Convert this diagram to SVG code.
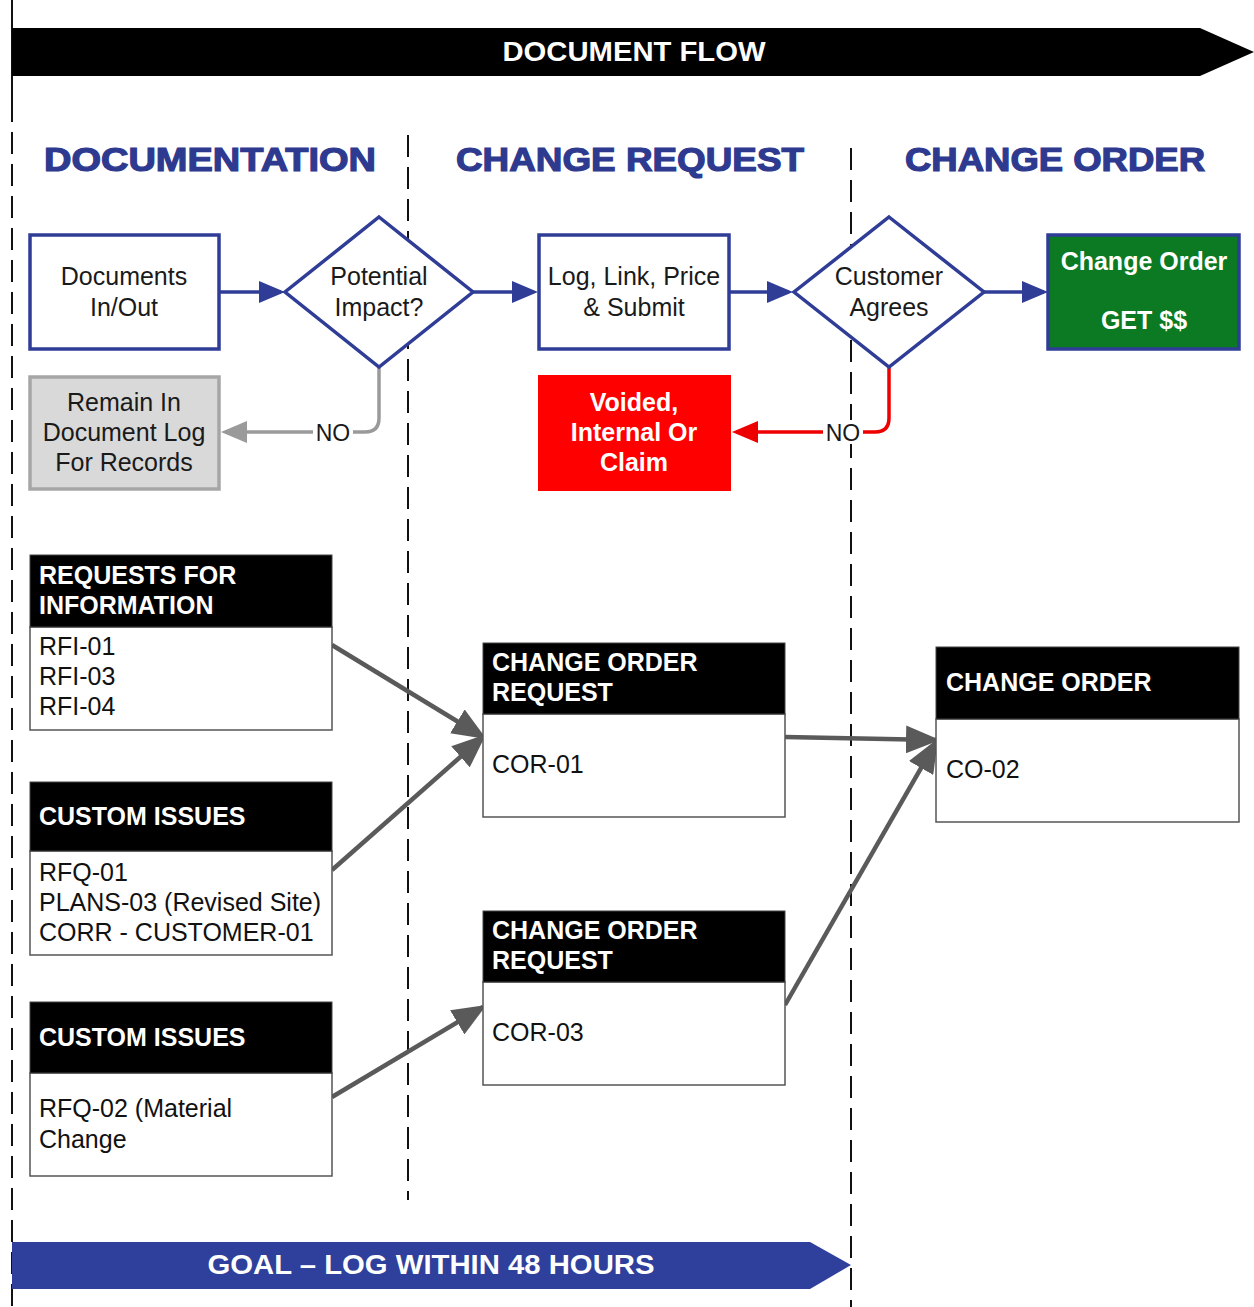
<svg xmlns="http://www.w3.org/2000/svg" width="1254" height="1307" viewBox="0 0 1254 1307">
<style>
.t{font-family:"Liberation Sans",Arial,sans-serif;}
.sec{font-family:"Liberation Sans",Arial,sans-serif;font-weight:bold;font-size:33px;fill:#2e3a8f;stroke:#2e3a8f;stroke-width:1.2px;text-anchor:middle;}
.box{fill:#fff;stroke:#2f3d96;stroke-width:3.5;}
.lbl{font-family:"Liberation Sans",Arial,sans-serif;font-size:25px;fill:#1a1a1a;text-anchor:middle;}
.no{font-family:"Liberation Sans",Arial,sans-serif;font-size:23px;fill:#1a1a1a;text-anchor:middle;}
.wb{font-family:"Liberation Sans",Arial,sans-serif;font-size:25px;font-weight:bold;fill:#fff;text-anchor:middle;}
.hd{fill:#000;stroke:#444;stroke-width:1;}
.bd{fill:#fff;stroke:#555;stroke-width:1.5;}
.ht{font-family:"Liberation Sans",Arial,sans-serif;font-size:25px;font-weight:bold;fill:#fff;}
.bt{font-family:"Liberation Sans",Arial,sans-serif;font-size:25px;fill:#111;}
.dash{stroke:#111;stroke-width:2;stroke-dasharray:22,10;fill:none;}
.nav{stroke:#2f3d96;stroke-width:3.5;fill:none;marker-end:url(#aN);}
.gc{stroke:#5a5a5a;stroke-width:4.5;fill:none;marker-end:url(#aG);}
</style>
<defs>
<marker id="aN" markerUnits="userSpaceOnUse" markerWidth="26" markerHeight="22" refX="22" refY="11" orient="auto"><path d="M0,0 L26,11 L0,22 z" fill="#2f3d96"/></marker>
<marker id="aGr" markerUnits="userSpaceOnUse" markerWidth="26" markerHeight="22" refX="22" refY="11" orient="auto"><path d="M0,0 L26,11 L0,22 z" fill="#9a9a9a"/></marker>
<marker id="aR" markerUnits="userSpaceOnUse" markerWidth="26" markerHeight="22" refX="22" refY="11" orient="auto"><path d="M0,0 L26,11 L0,22 z" fill="#ee0000"/></marker>
<marker id="aG" markerUnits="userSpaceOnUse" markerWidth="34" markerHeight="28" refX="30" refY="14" orient="auto"><path d="M0,0 L34,14 L0,28 z" fill="#5a5a5a"/></marker>
</defs>
<rect width="1254" height="1307" fill="#fff"/>

<g id="lanes">
<line x1="12" y1="0" x2="12" y2="100" stroke="#111" stroke-width="2"/>
<line class="dash" x1="12" y1="100" x2="12" y2="1307"/>
<line class="dash" x1="408" y1="135" x2="408" y2="1200"/>
<line class="dash" x1="851" y1="148" x2="851" y2="1307"/>
</g>

<g id="header">
<polygon points="12,28 1200,28 1254,52 1200,76 12,76" fill="#000"/>
<text class="t" x="634" y="61" font-size="28" font-weight="bold" fill="#fff" text-anchor="middle" textLength="263" lengthAdjust="spacingAndGlyphs">DOCUMENT FLOW</text>
</g>

<g id="sections">
<text class="sec" x="210" y="171" textLength="332" lengthAdjust="spacingAndGlyphs">DOCUMENTATION</text>
<text class="sec" x="630" y="171" textLength="348" lengthAdjust="spacingAndGlyphs">CHANGE REQUEST</text>
<text class="sec" x="1055" y="171" textLength="300" lengthAdjust="spacingAndGlyphs">CHANGE ORDER</text>
</g>

<g id="connectors">
<path class="nav" d="M220,292 H281"/>
<path class="nav" d="M473,292 H534"/>
<path class="nav" d="M730,292 H789"/>
<path class="nav" d="M984,292 H1044"/>
<path d="M379,367 V418 Q379,432 365,432 H225" stroke="#9a9a9a" stroke-width="3.5" fill="none" marker-end="url(#aGr)"/>
<path d="M889,367 V418 Q889,432 875,432 H736" stroke="#ee0000" stroke-width="3.5" fill="none" marker-end="url(#aR)"/>
<rect x="313" y="420" width="40" height="24" fill="#fff"/>
<text class="no" x="333" y="441">NO</text>
<rect x="823" y="420" width="40" height="24" fill="#fff"/>
<text class="no" x="843" y="441">NO</text>
<path class="gc" d="M332,645 L483,737"/>
<path class="gc" d="M332,870 L483,737"/>
<path class="gc" d="M332,1097 L483,1007"/>
<path class="gc" d="M785,737 L936,740"/>
<path class="gc" d="M785,1005 L936,742"/>
</g>

<g id="docs-inout">
<rect class="box" x="30" y="235" width="189" height="114"/>
<text class="lbl" x="124" y="285">Documents</text>
<text class="lbl" x="124" y="316">In/Out</text>
</g>

<g id="potential-impact">
<polygon class="box" points="379,217 473,292 379,367 285,292"/>
<text class="lbl" x="379" y="285">Potential</text>
<text class="lbl" x="379" y="316">Impact?</text>
</g>

<g id="log-link">
<rect class="box" x="539" y="235" width="190" height="114"/>
<text class="lbl" x="634" y="285">Log, Link, Price</text>
<text class="lbl" x="634" y="316">&amp; Submit</text>
</g>

<g id="customer-agrees">
<polygon class="box" points="889,217 984,292 889,367 794,292"/>
<text class="lbl" x="889" y="285">Customer</text>
<text class="lbl" x="889" y="316">Agrees</text>
</g>

<g id="change-order-get">
<rect x="1048" y="235" width="191" height="114" fill="#0b7a23" stroke="#2f3d96" stroke-width="3.5"/>
<text class="wb" x="1144" y="270">Change Order</text>
<text class="wb" x="1144" y="329">GET $$</text>
</g>

<g id="remain-log">
<rect x="30" y="377" width="189" height="112" fill="#d9d9d9" stroke="#a6a6a6" stroke-width="3.5"/>
<text class="lbl" x="124" y="411">Remain In</text>
<text class="lbl" x="124" y="441">Document Log</text>
<text class="lbl" x="124" y="471">For Records</text>
</g>

<g id="voided">
<rect x="538" y="375" width="193" height="116" fill="#ff0000"/>
<text class="wb" x="634" y="411">Voided,</text>
<text class="wb" x="634" y="441">Internal Or</text>
<text class="wb" x="634" y="471">Claim</text>
</g>

<g id="rfi">
<rect class="bd" x="30" y="627" width="302" height="103"/>
<rect class="hd" x="30" y="555" width="302" height="72"/>
<text class="ht" x="39" y="584">REQUESTS FOR</text>
<text class="ht" x="39" y="614">INFORMATION</text>
<text class="bt" x="39" y="655">RFI-01</text>
<text class="bt" x="39" y="685">RFI-03</text>
<text class="bt" x="39" y="715">RFI-04</text>
</g>

<g id="custom-issues-1">
<rect class="bd" x="30" y="851" width="302" height="104"/>
<rect class="hd" x="30" y="782" width="302" height="69"/>
<text class="ht" x="39" y="825">CUSTOM ISSUES</text>
<text class="bt" x="39" y="881">RFQ-01</text>
<text class="bt" x="39" y="911">PLANS-03 (Revised Site)</text>
<text class="bt" x="39" y="941">CORR - CUSTOMER-01</text>
</g>

<g id="custom-issues-2">
<rect class="bd" x="30" y="1073" width="302" height="103"/>
<rect class="hd" x="30" y="1002" width="302" height="71"/>
<text class="ht" x="39" y="1046">CUSTOM ISSUES</text>
<text class="bt" x="39" y="1117">RFQ-02 (Material</text>
<text class="bt" x="39" y="1148">Change</text>
</g>

<g id="cor-01">
<rect class="bd" x="483" y="714" width="302" height="103"/>
<rect class="hd" x="483" y="643" width="302" height="71"/>
<text class="ht" x="492" y="671">CHANGE ORDER</text>
<text class="ht" x="492" y="701">REQUEST</text>
<text class="bt" x="492" y="773">COR-01</text>
</g>

<g id="cor-03">
<rect class="bd" x="483" y="982" width="302" height="103"/>
<rect class="hd" x="483" y="911" width="302" height="71"/>
<text class="ht" x="492" y="939">CHANGE ORDER</text>
<text class="ht" x="492" y="969">REQUEST</text>
<text class="bt" x="492" y="1041">COR-03</text>
</g>

<g id="co-02">
<rect class="bd" x="936" y="719" width="303" height="103"/>
<rect class="hd" x="936" y="647" width="303" height="72"/>
<text class="ht" x="946" y="691">CHANGE ORDER</text>
<text class="bt" x="946" y="778">CO-02</text>
</g>

<g id="goal">
<polygon points="12,1242 810,1242 851,1265 810,1289 12,1289" fill="#2f3f9c"/>
<text class="t" x="431" y="1274" font-size="27" font-weight="bold" fill="#fff" text-anchor="middle" textLength="447" lengthAdjust="spacingAndGlyphs">GOAL – LOG WITHIN 48 HOURS</text>
</g>
</svg>
